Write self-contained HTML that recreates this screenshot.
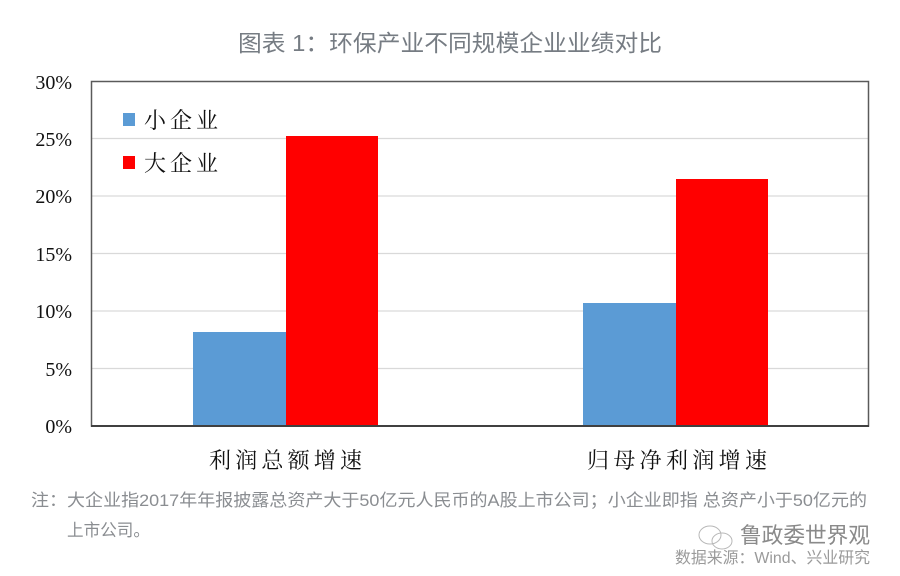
<!DOCTYPE html>
<html><head><meta charset="utf-8"><style>
html,body{margin:0;padding:0;background:#fff;}
svg{display:block;}
.serif{font-family:"Liberation Serif","Noto Serif CJK SC","Noto Serif CJK SC",serif;}
.cjkserif{font-family:"Noto Serif CJK SC","Liberation Serif",serif;}
.sans{font-family:"Liberation Sans","Noto Sans CJK SC",sans-serif;}
</style></head><body>
<svg width="900" height="576" viewBox="0 0 900 576" xmlns="http://www.w3.org/2000/svg">
<rect width="900" height="576" fill="#fff"/>
<!-- title -->
<text class="sans" x="238" y="51" font-size="23" fill="#767c83" textLength="424" lengthAdjust="spacingAndGlyphs">图表 1：环保产业不同规模企业业绩对比</text>
<!-- gridlines -->
<g stroke="#d9d9d9" stroke-width="1.2">
<line x1="91" y1="138.5" x2="869" y2="138.5"/>
<line x1="91" y1="196" x2="869" y2="196"/>
<line x1="91" y1="253.5" x2="869" y2="253.5"/>
<line x1="91" y1="311" x2="869" y2="311"/>
<line x1="91" y1="368.5" x2="869" y2="368.5"/>
</g>
<!-- bars -->
<rect x="193" y="332" width="93" height="94" fill="#5b9bd5"/>
<rect x="286" y="136" width="92" height="290" fill="#ff0000"/>
<rect x="583" y="303" width="93" height="123" fill="#5b9bd5"/>
<rect x="676" y="179" width="92" height="247" fill="#ff0000"/>
<!-- frame -->
<rect x="91.5" y="81.5" width="777" height="344.5" fill="none" stroke="#5a5a5a" stroke-width="1.5"/>
<line x1="91" y1="426" x2="869" y2="426" stroke="#404040" stroke-width="2"/>
<!-- y labels -->
<g class="serif" font-size="20" fill="#111" text-anchor="end">
<text x="72" y="89">30%</text>
<text x="72" y="146">25%</text>
<text x="72" y="203">20%</text>
<text x="72" y="261">15%</text>
<text x="72" y="318">10%</text>
<text x="72" y="376">5%</text>
<text x="72" y="433">0%</text>
</g>
<!-- legend -->
<rect x="123" y="113" width="12" height="13" fill="#5b9bd5"/>
<rect x="123" y="156" width="12" height="13" fill="#ff0000"/>
<g class="cjkserif" font-size="22" fill="#111">
<text x="144" y="128" textLength="74" lengthAdjust="spacing">小企业</text>
<text x="144" y="171" textLength="74" lengthAdjust="spacing">大企业</text>
</g>
<!-- x labels -->
<g class="cjkserif" font-size="22" fill="#111">
<text x="209" y="468" textLength="153" lengthAdjust="spacing">利润总额增速</text>
<text x="587" y="468" textLength="180" lengthAdjust="spacing">归母净利润增速</text>
</g>
<!-- note -->
<g class="sans" font-size="17" fill="#8a8d91">
<text x="31" y="506" textLength="836" lengthAdjust="spacingAndGlyphs">注：大企业指2017年年报披露总资产大于50亿元人民币的A股上市公司；小企业即指 总资产小于50亿元的</text>
<text x="67" y="536" textLength="83" lengthAdjust="spacingAndGlyphs">上市公司。</text>
</g>
<!-- watermark -->
<g fill="none" stroke="#b8b8b8" stroke-width="1">
<ellipse cx="710" cy="535" rx="11" ry="9"/>
<ellipse cx="722" cy="541" rx="10" ry="8"/>
</g>
<text class="sans" x="740" y="543" font-size="22" fill="#8a8a8a" textLength="130" lengthAdjust="spacingAndGlyphs">鲁政委世界观</text>
<text class="sans" x="675" y="563" font-size="16" fill="#9a9a9a" textLength="195" lengthAdjust="spacingAndGlyphs">数据来源：Wind、兴业研究</text>
</svg>
</body></html>
